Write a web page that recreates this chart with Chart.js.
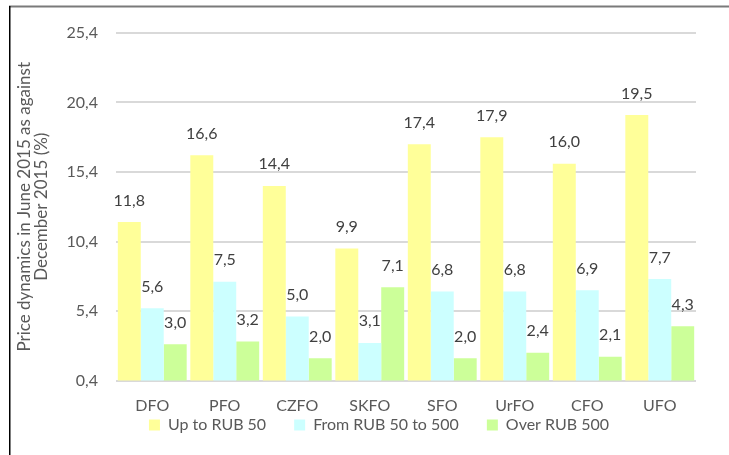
<!DOCTYPE html>
<html>
<head>
<meta charset="utf-8">
<script src="https://cdn.jsdelivr.net/npm/chart.js@4"></script>
<style>
html,body{margin:0;padding:0;background:#fff;}
#wrap{width:729px;height:455px;position:relative;}
</style>
</head>
<body>
<div id="wrap"><canvas id="c" width="729" height="455"></canvas></div>
<script>
const categories = ['DFO', 'PFO', 'CZFO', 'SKFO', 'SFO', 'UrFO', 'CFO', 'UFO'];
const seriesNames = ['Up to RUB 50', 'From RUB 50 to 500', 'Over RUB 500'];
const upTo50 = [11.8, 16.6, 14.4, 9.9, 17.4, 17.9, 16.0, 19.5];
const from50to500 = [5.6, 7.5, 5.0, 3.1, 6.8, 6.8, 6.9, 7.7];
const over500 = [3.0, 3.2, 2.0, 7.1, 2.0, 2.4, 2.1, 4.3];
const yTickValues = [0.4, 5.4, 10.4, 15.4, 20.4, 25.4];
const yTitle = ['Price dynamics in June 2015 as against', 'December 2015 (%)'];

const fmt = v => Number(v).toFixed(1).replace('.', ',');
const FONT = 'Lato, "Open Sans", sans-serif';

const framePlugin = {
  id: 'frame',
  beforeDraw(chart) {
    const ctx = chart.ctx;
    ctx.save();
    ctx.fillStyle = '#fff';
    ctx.fillRect(0, 0, chart.width, chart.height);
    ctx.strokeStyle = '#7a7a7a';
    ctx.lineWidth = 2;
    ctx.beginPath(); ctx.moveTo(9, 6.5); ctx.lineTo(chart.width, 6.5); ctx.stroke();
    ctx.strokeStyle = '#000';
    ctx.lineWidth = 1.5;
    ctx.beginPath(); ctx.moveTo(9.75, 6); ctx.lineTo(9.75, chart.height); ctx.stroke();
    ctx.restore();
  }
};

const yTitlePlugin = {
  id: 'yTitle',
  afterDraw(chart) {
    const ctx = chart.ctx;
    const area = chart.chartArea;
    const cy = (area.top + area.bottom) / 2;
    ctx.save();
    ctx.font = '17px ' + FONT;
    ctx.fillStyle = '#595959';
    ctx.textAlign = 'center';
    ctx.textBaseline = 'middle';
    ctx.translate(25, cy);
    ctx.rotate(-Math.PI / 2);
    yTitle.forEach((line, i) => ctx.fillText(line, 0, i * 17));
    ctx.restore();
  }
};

const legendShift = {
  id: 'legendShift',
  afterLayout(chart) {
    const l = chart.legend;
    if (l) {
      const dx = 26, dy = -22.5;
      l.left += dx; l.right += dx;
      l.top += dy; l.bottom += dy;
    }
  }
};

const labelPlugin = {
  id: 'valueLabels',
  afterDatasetsDraw(chart) {
    const ctx = chart.ctx;
    ctx.save();
    ctx.font = '16px ' + FONT;
    ctx.fillStyle = '#404040';
    ctx.textAlign = 'center';
    ctx.textBaseline = 'alphabetic';
    chart.data.datasets.forEach((ds, i) => {
      const meta = chart.getDatasetMeta(i);
      meta.data.forEach((el, j) => {
        ctx.fillText(fmt(ds.data[j]), el.x, el.y - 16.5);
      });
    });
    ctx.restore();
  }
};

new Chart(document.getElementById('c'), {
  type: 'bar',
  data: {
    labels: categories,
    datasets: [
      { label: seriesNames[0], data: upTo50, backgroundColor: '#FFFF99' },
      { label: seriesNames[1], data: from50to500, backgroundColor: '#CCFFFF' },
      { label: seriesNames[2], data: over500, backgroundColor: '#CCFF99' }
    ]
  },
  options: {
    responsive: false,
    animation: false,
    devicePixelRatio: 1,
    layout: { padding: { left: 10, right: 33, top: 33, bottom: -10.5 } },
    datasets: { bar: { categoryPercentage: 0.95, barPercentage: 1.0, borderWidth: 0 } },
    scales: {
      x: {
        grid: { display: false, drawTicks: false },
        border: { display: false },
        ticks: { padding: 16, color: '#595959', font: { family: FONT, size: 16 } },
        afterFit(scale) { scale.height = 31; }
      },
      y: {
        min: 0.4, max: 25.4,
        grid: { color: '#d9d9d9', lineWidth: 2, drawTicks: false },
        border: { display: false },
        afterBuildTicks(scale) { scale.ticks = yTickValues.map(v => ({ value: v })); },
        afterFit(scale) { scale.width = 106; },
        ticks: {
          padding: 18, color: '#595959', font: { family: FONT, size: 16 },
          callback: v => fmt(v)
        },
        title: { display: false }
      }
    },
    plugins: {
      legend: {
        position: 'bottom',
        labels: {
          boxWidth: 11, boxHeight: 11, padding: 28,
          color: '#595959', font: { family: FONT, size: 16 }
        }
      },
      tooltip: { enabled: false }
    }
  },
  plugins: [framePlugin, legendShift, labelPlugin, yTitlePlugin]
});
</script>
</body>
</html>
